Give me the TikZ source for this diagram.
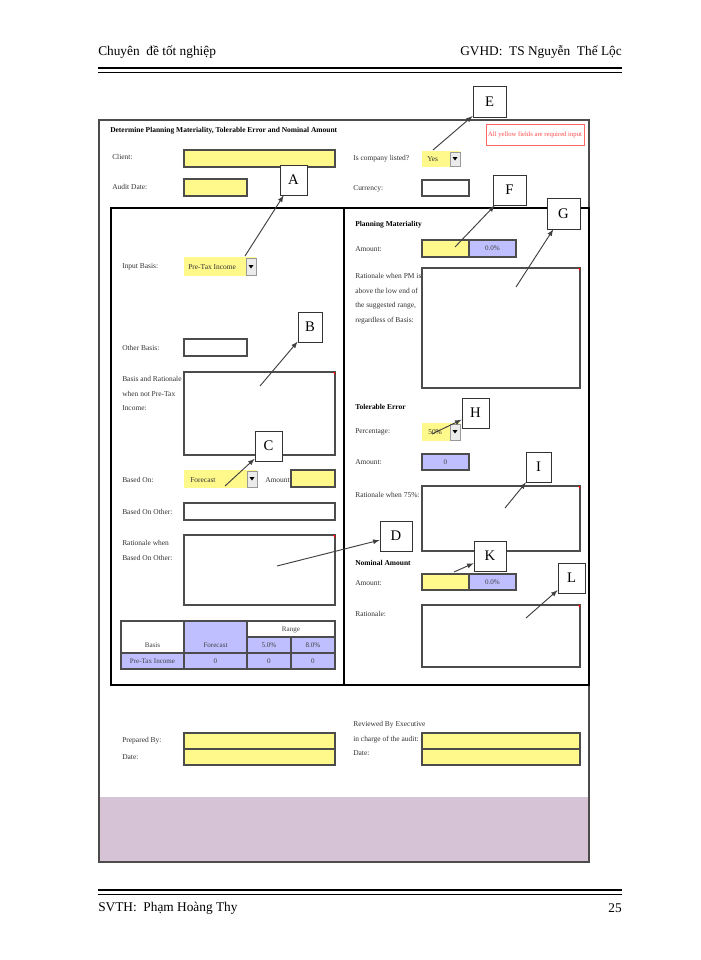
\documentclass[tikz,border=0pt]{standalone}
\usepackage{fontspec}
\setmainfont{Liberation Serif}
\definecolor{mauve}{RGB}{214,196,214}
\begin{document}
\begin{tikzpicture}[x=0.75pt,y=-0.75pt,
  lbl/.style={anchor=west,inner sep=0pt,font=\fontsize{5.6}{7}\selectfont,text=black!80},
  hd/.style={anchor=west,inner sep=0pt,font=\fontsize{5.6}{7}\selectfont\bfseries},
  yel/.style={draw=black!70,fill=yellow!45,line width=0.8pt},
  pur/.style={draw=black!70,fill=blue!25,line width=0.8pt},
  wbox/.style={draw=black!70,fill=white,line width=0.8pt},
  cell/.style={font=\fontsize{5.3}{6}\selectfont,text=black!75},
  callout/.style={draw=black!80,fill=white,line width=0.6pt,font=\fontsize{11}{12}\selectfont},
  arr/.style={->,>=latex,line width=0.7pt,draw=black!75},
  ptxt/.style={font=\fontsize{10}{12}\selectfont,inner sep=0pt}]
\useasboundingbox (0,0) rectangle (700,960);
\fill[white] (0,0) rectangle (700,960);
% header / footer
\node[ptxt,anchor=west] (h1) at (98,52) {Chuyên\ \ đề tốt nghiệp};
\node[ptxt,anchor=east] (h2) at (622,52) {GVHD:\ \ TS Nguyễn\ \ Thế Lộc};
\draw[line width=1.6pt] (98,68) -- (622,68);
\draw[line width=0.6pt] (98,72) -- (622,72);
\draw[line width=1.6pt] (98,890) -- (622,890);
\draw[line width=0.6pt] (98,894) -- (622,894);
\node[ptxt,anchor=west] (f1) at (98,908) {SVTH:\ \ Phạm Hoàng Thy};
\node[ptxt,anchor=east] (f2) at (622,908) {25};
% form frame
\fill[mauve] (99.5,797) rectangle (588.5,861.5);
\draw[line width=0.8pt,draw=black!70] (99,120) rectangle (589,862);
\node[hd] (title) at (110,131) {Determine Planning Materiality, Tolerable Error and Nominal Amount};
\node[draw=red!60,line width=0.6pt,minimum width=98*0.75pt,minimum height=21*0.75pt,text=red!70,font=\fontsize{5}{6}\selectfont,inner sep=0pt] (req) at (535,134.5) {All yellow fields are required input};
\node[lbl] (lc) at (112,157) {Client:};
\draw[yel] (184,150) rectangle (335,167);
\node[lbl] (lad) at (112,187) {Audit Date:};
\draw[yel] (184,179) rectangle (247,196);
\node[lbl] (lis) at (353,159) {Is company listed?};
\fill[yellow!45] (422,151) rectangle (460,167);
\draw[black!40,fill=black!8] (450,152) rectangle (460,166);
\fill (452.5,157) -- (457.5,157) -- (455,160.5) -- cycle;
\node[lbl] (yes) at (427,159) {Yes};
\node[lbl] (lcur) at (353,189) {Currency:};
\draw[wbox] (422,180) rectangle (469,196);
% inner box
\draw[line width=1.6pt] (111,208) -- (589,208);
\draw[line width=1.2pt] (111,208) rectangle (589,685);
\draw[line width=1.2pt] (344,208) -- (344,685);
% left column
\node[lbl] (lib) at (122,267) {Input Basis:};
\fill[yellow!45] (184,257) rectangle (256,276);
\draw[black!40,fill=black!8] (246,258) rectangle (256,275);
\fill (248.5,265) -- (253.5,265) -- (251,268.5) -- cycle;
\node[lbl] (pti) at (188,267) {Pre-Tax Income};
\node[lbl] (lob) at (122,348) {Other Basis:};
\draw[wbox] (184,339) rectangle (247,356);
\node[lbl,align=left,anchor=north west] (lbr) at (122,376) {Basis and Rationale\\[4pt]when not Pre-Tax\\[4pt]Income:};
\draw[wbox] (184,372) rectangle (335,455);
\fill[red] (333,372) -- (335,372) -- (335,375) -- cycle;
\node[lbl] (lbo) at (122,480) {Based On:};
\fill[yellow!45] (184,470) rectangle (257,488);
\draw[black!40,fill=black!8] (247,471) rectangle (257,487);
\fill (249.5,477) -- (254.5,477) -- (252,480.5) -- cycle;
\node[lbl] (fc) at (190,480) {Forecast};
\node[lbl] (lam) at (265,480) {Amount:};
\draw[yel] (291,470) rectangle (335,487);
\node[lbl] (lboo) at (122,512) {Based On Other:};
\draw[wbox] (184,503) rectangle (335,520);
\node[lbl,align=left,anchor=north west] (lrw) at (122,540) {Rationale when\\[4pt]Based On Other:};
\draw[wbox] (184,535) rectangle (335,605);
\fill[red] (333,535) -- (335,535) -- (335,538) -- cycle;
% table
\fill[blue!25] (184,621) rectangle (247,653);
\fill[blue!25] (247,637) rectangle (335,653);
\fill[blue!25] (121,653) rectangle (335,669);
\draw[line width=0.8pt,black!70] (121,621) rectangle (335,669);
\draw[line width=0.8pt,black!70] (121,653) -- (335,653) (247,637) -- (335,637)
  (184,621) -- (184,669) (247,621) -- (247,669) (291,637) -- (291,669);
\node[cell] (tb) at (152.5,645) {Basis};
\node[cell] (tf) at (215.5,645) {Forecast};
\node[cell] (tr) at (291,630) {Range};
\node[cell] (t5) at (269,645) {5.0\%};
\node[cell] (t8) at (313,645) {8.0\%};
\node[cell] (tp) at (152.5,661) {Pre-Tax Income};
\node[cell] (t0a) at (215.5,661) {0};
\node[cell] (t0b) at (269,661) {0};
\node[cell] (t0c) at (313,661) {0};
% right column
\node[hd] (hpm) at (355,225) {Planning Materiality};
\node[lbl] (lpa) at (355,249) {Amount:};
\draw[yel] (422,240) rectangle (469,257);
\draw[pur] (469,240) rectangle (516,257);
\node[cell] (pm0) at (492.5,248.5) {0.0\%};
\node[lbl,align=left,anchor=north west] (lrpm) at (355,273) {Rationale when PM is\\[4pt]above the low end of\\[4pt]the suggested range,\\[4pt]regardless of Basis:};
\draw[wbox] (422,268) rectangle (580,388);
\fill[red] (578,268) -- (580,268) -- (580,271) -- cycle;
\node[hd] (hte) at (355,407) {Tolerable Error};
\node[lbl] (lpc) at (355,432) {Percentage:};
\fill[yellow!45] (422,423) rectangle (460,441);
\draw[black!40,fill=black!8] (450,424) rectangle (460,440);
\fill (452.5,430) -- (457.5,430) -- (455,433.5) -- cycle;
\node[lbl] (p50) at (428,432) {50\%};
\node[lbl] (lta) at (355,462) {Amount:};
\draw[pur] (422,454) rectangle (469,470);
\node[cell] (te0) at (445.5,462) {0};
\node[lbl] (lr75) at (355,495) {Rationale when 75\%:};
\draw[wbox] (422,486) rectangle (580,551);
\fill[red] (578,486) -- (580,486) -- (580,489) -- cycle;
\node[hd] (hna) at (355,563) {Nominal Amount};
\node[lbl] (lna) at (355,583) {Amount:};
\draw[yel] (422,574) rectangle (469,590);
\draw[pur] (469,574) rectangle (516,590);
\node[cell] (na0) at (492.5,582) {0.0\%};
\node[lbl] (lrat) at (355,614) {Rationale:};
\draw[wbox] (422,605) rectangle (580,667);
\fill[red] (578,605) -- (580,605) -- (580,608) -- cycle;
% sign-off
\node[lbl] (lpb) at (122,741) {Prepared By:};
\node[lbl] (ld1) at (122,757) {Date:};
\draw[yel] (184,733) rectangle (335,749);
\draw[yel] (184,749) rectangle (335,765);
\node[lbl,align=left,anchor=north west] (lrev) at (353,721) {Reviewed By Executive\\[4pt]in charge of the audit:\\[4pt]Date:};
\draw[yel] (422,733) rectangle (580,749);
\draw[yel] (422,749) rectangle (580,765);
% callouts
\node[callout,minimum width=33*0.75pt,minimum height=31*0.75pt] (E) at (489.5,101.5) {E};
\node[callout,minimum width=27*0.75pt,minimum height=30*0.75pt] (A) at (293.5,180) {A};
\node[callout,minimum width=33*0.75pt,minimum height=30*0.75pt] (F) at (509.5,190) {F};
\node[callout,minimum width=33*0.75pt,minimum height=31*0.75pt] (G) at (563.5,213.5) {G};
\node[callout,minimum width=24*0.75pt,minimum height=30*0.75pt] (B) at (310,327) {B};
\node[callout,minimum width=27*0.75pt,minimum height=30*0.75pt] (C) at (268.5,446) {C};
\node[callout,minimum width=32*0.75pt,minimum height=30*0.75pt] (D) at (396,536) {D};
\node[callout,minimum width=27*0.75pt,minimum height=30*0.75pt] (H) at (475.5,413) {H};
\node[callout,minimum width=25*0.75pt,minimum height=30*0.75pt] (I) at (538.5,467) {I};
\node[callout,minimum width=32*0.75pt,minimum height=30*0.75pt] (K) at (490,556) {K};
\node[callout,minimum width=27*0.75pt,minimum height=30*0.75pt] (L) at (571.5,578) {L};
\coordinate (eE) at (433,150);
\coordinate (eA) at (245,256);
\coordinate (eF) at (455,247);
\coordinate (eG) at (516,287);
\coordinate (eB) at (260,386);
\coordinate (eC) at (225,486);
\coordinate (eD) at (277,566);
\coordinate (eH) at (432,434);
\coordinate (eI) at (505,508);
\coordinate (eK) at (454,572);
\coordinate (eL) at (526,618);
\draw[arr] (eE) -- (E);
\draw[arr] (eA) -- (A);
\draw[arr] (eF) -- (F);
\draw[arr] (eG) -- (G);
\draw[arr] (eB) -- (B);
\draw[arr] (eC) -- (C);
\draw[arr] (eD) -- (D);
\draw[arr] (eH) -- (H);
\draw[arr] (eI) -- (I);
\draw[arr] (eK) -- (K);
\draw[arr] (eL) -- (L);
\end{tikzpicture}
\end{document}
